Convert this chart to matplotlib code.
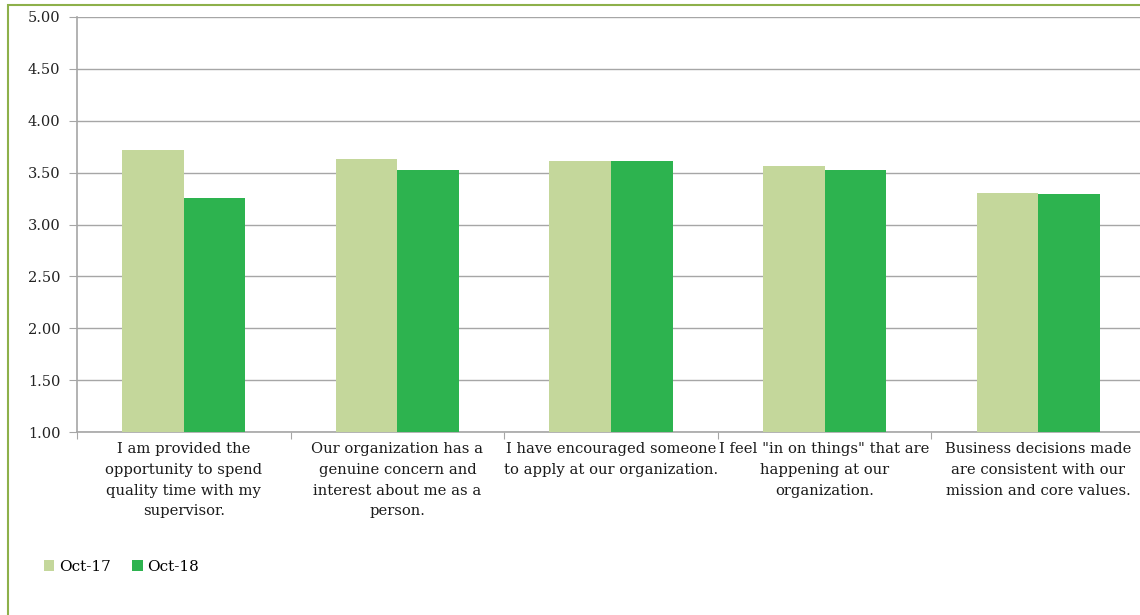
import matplotlib
matplotlib.use("Agg")
import matplotlib.pyplot as plt
import numpy as np
from matplotlib.patches import Rectangle

categories = [
    "I am provided the\nopportunity to spend\nquality time with my\nsupervisor.",
    "Our organization has a\ngenuine concern and\ninterest about me as a\nperson.",
    "I have encouraged someone\nto apply at our organization.",
    "I feel \"in on things\" that are\nhappening at our\norganization.",
    "Business decisions made\nare consistent with our\nmission and core values.",
]
series_names = ["Oct-17", "Oct-18"]
oct17 = [3.72, 3.63, 3.61, 3.56, 3.30]
oct18 = [3.26, 3.53, 3.61, 3.53, 3.29]
yticks = [1.0, 1.5, 2.0, 2.5, 3.0, 3.5, 4.0, 4.5, 5.0]

c17 = "#C4D79B"
c18 = "#2DB34F"
grid_c = "#A6A6A6"

plt.rcParams['font.family'] = ['DejaVu Serif']

fig = plt.figure(figsize=(11.4, 6.15), dpi=100)
ax = fig.add_axes([77/1140, 1-432/615, 1068/1140, (432-17)/615])

x = np.arange(len(categories))
w = 0.288
ax.bar(x - w/2, oct17, width=w, bottom=0, color=c17, label=series_names[0], zorder=3)
ax.bar(x + w/2, oct18, width=w, bottom=0, color=c18, label=series_names[1], zorder=3)

ax.set_ylim(1.0, 5.0)
ax.set_xlim(-0.5, len(categories) - 0.5)
ax.set_yticks(yticks)
ax.set_yticklabels([f"{v:.2f}" for v in yticks], fontsize=10.5, color="#222222")
ax.yaxis.grid(True, color=grid_c, linewidth=1.0, zorder=0)
ax.set_axisbelow(True)

ax.set_xticks(np.arange(len(categories) + 1) - 0.5, minor=False)
ax.set_xticklabels([])
ax.tick_params(axis='x', length=5, color=grid_c, direction='out')
ax.tick_params(axis='y', length=6, color=grid_c, pad=6)
for i, lab in enumerate(categories):
    ax.text(i, -0.025, lab, transform=ax.get_xaxis_transform(), ha='center', va='top',
            fontsize=10.6, color="#1a1a1a", linespacing=1.6)

for s in ['top', 'right']:
    ax.spines[s].set_visible(False)
for s in ['left', 'bottom']:
    ax.spines[s].set_color(grid_c)
    ax.spines[s].set_linewidth(1.2)

# chart border
fig.patches.append(Rectangle((8/1140, -0.1), 1.2, (615-5)/615 + 0.1, transform=fig.transFigure,
                             fill=False, edgecolor="#8DB04A", linewidth=1.5))

leg = fig.legend(loc='center left', bbox_to_anchor=(30/1140, 1-567/615), ncol=2, frameon=False,
                 fontsize=11, handlelength=0.7, handleheight=0.7, handletextpad=0.3,
                 columnspacing=1.4)

fig.savefig("out.png", dpi=100)
